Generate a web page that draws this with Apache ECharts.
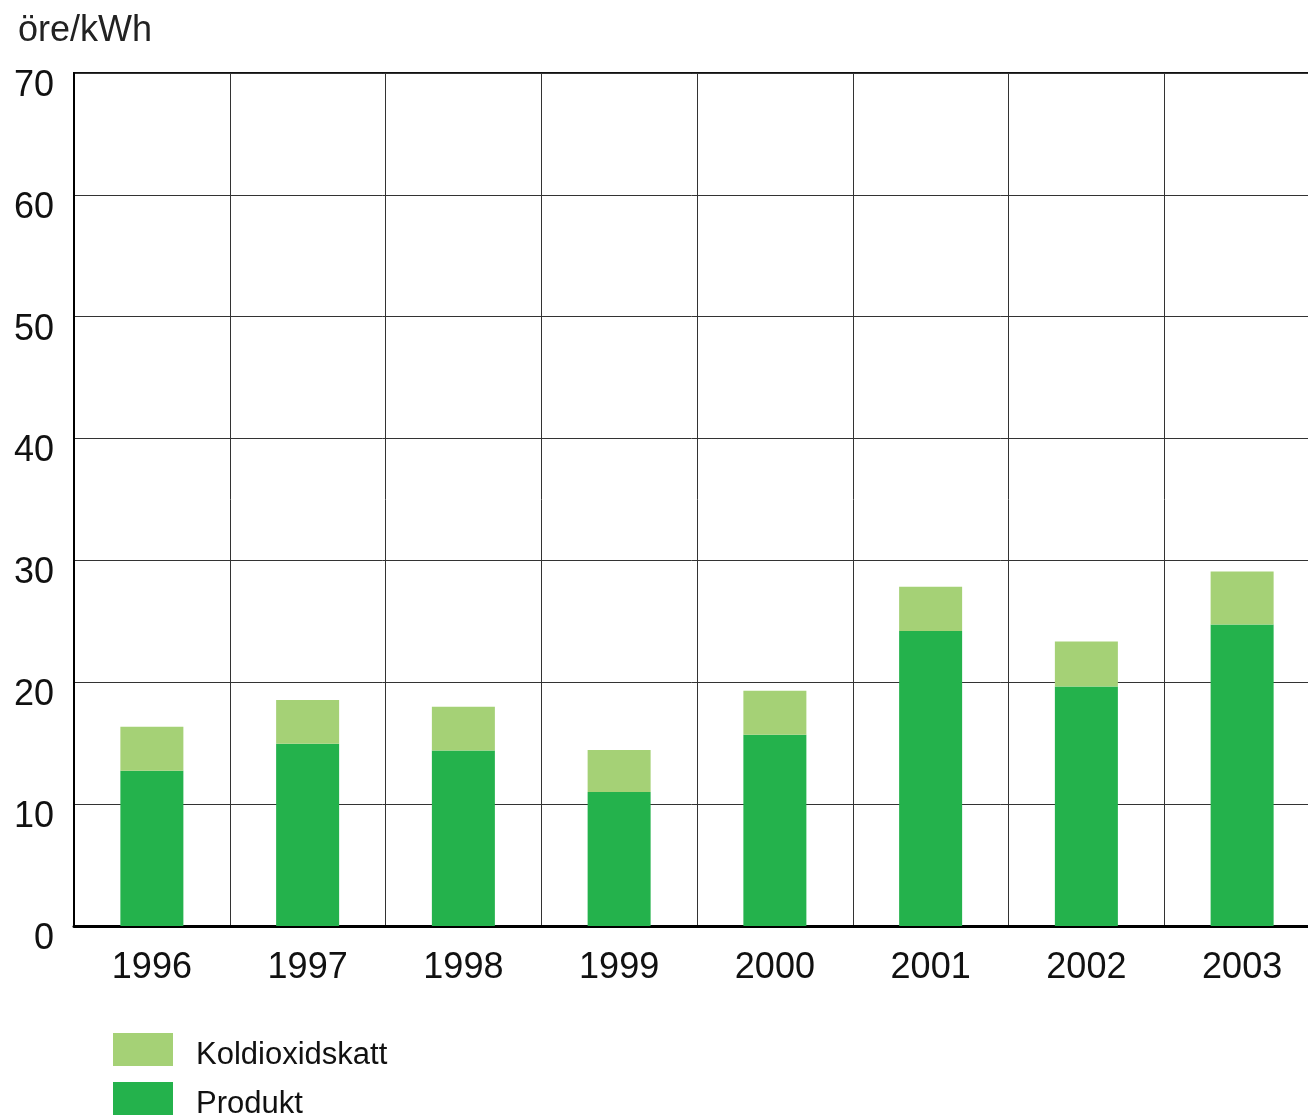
<!DOCTYPE html>
<html>
<head>
<meta charset="utf-8">
<script src="https://cdn.jsdelivr.net/npm/echarts@6/dist/echarts.min.js"></script>
<style>
html,body{margin:0;padding:0;background:#fff;}
#chart{width:1308px;height:1117px;}
</style>
</head>
<body>
<div id="chart"></div>
<script>
const years = ['1996','1997','1998','1999','2000','2001','2002','2003'];
const produkt = [12.75, 14.95, 14.4, 11.0, 15.7, 24.2, 19.65, 24.75];
const koldioxidskatt = [3.6, 3.6, 3.6, 3.45, 3.6, 3.65, 3.7, 4.35];
const yTicks = [0, 10, 20, 30, 40, 50, 60, 70];

const font = 'Liberation Sans, Arial, sans-serif';
const chart = echarts.init(document.getElementById('chart'));
chart.setOption({
  animation: false,
  backgroundColor: '#fff',
  title: {
    text: 'öre/kWh',
    left: 13, top: 8,
    textStyle: {fontFamily: font, fontSize: 36, fontWeight: 'normal', color: '#222'}
  },
  legend: {
    orient: 'vertical',
    left: 113, top: 1033,
    width: 400, height: 200,
    padding: 0,
    itemWidth: 60, itemHeight: 33, itemGap: 11,
    icon: 'rect',
    data: ['Koldioxidskatt', 'Produkt'],
    formatter: '{t|{name}}',
    textStyle: {
      fontFamily: font, fontSize: 31, color: '#111',
      rich: {t: {fontFamily: font, fontSize: 31, color: '#111', padding: [12, 0, 0, 18]}}
    }
  },
  grid: {
    left: 74, width: 1246, top: 73, height: 853,
    outerBoundsMode: 'none',
    containLabel: false,
    show: true, borderColor: '#111', borderWidth: 2, backgroundColor: 'transparent'
  },
  xAxis: {
    type: 'category',
    data: years,
    axisLine: {show: true, lineStyle: {color: '#000', width: 3}},
    axisTick: {show: false},
    splitLine: {show: true, lineStyle: {color: '#333', width: 1}},
    axisLabel: {fontFamily: font, fontSize: 36, color: '#111', margin: 24}
  },
  yAxis: {
    type: 'value',
    min: yTicks[0], max: yTicks[yTicks.length - 1], interval: 10,
    axisLine: {show: true, lineStyle: {color: '#000', width: 2}},
    axisTick: {show: false},
    splitLine: {show: true, lineStyle: {color: '#333', width: 1}},
    axisLabel: {fontFamily: font, fontSize: 36, color: '#111', margin: 20, verticalAlign: 'top', lineHeight: 26}
  },
  series: [
    {
      name: 'Produkt', type: 'bar', stack: 'total', barWidth: 63,
      data: produkt,
      itemStyle: {color: '#24B24C'}
    },
    {
      name: 'Koldioxidskatt', type: 'bar', stack: 'total', barWidth: 63,
      data: koldioxidskatt,
      itemStyle: {color: '#A5D176'}
    }
  ]
});
</script>
</body>
</html>
